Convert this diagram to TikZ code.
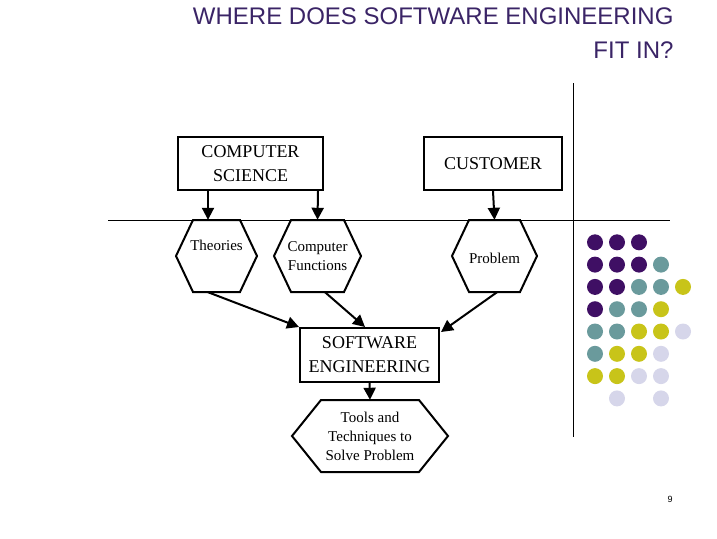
\documentclass[tikz,border=0pt]{standalone}
\usepackage{fontspec}
\setmainfont{Liberation Serif}
\newfontfamily\titlefont{Liberation Sans}
\usetikzlibrary{arrows.meta}
\definecolor{titlecol}{HTML}{3A2466}
\definecolor{dotP}{HTML}{3F0F64}
\definecolor{dotT}{HTML}{6A9A9C}
\definecolor{dotY}{HTML}{C8C419}
\definecolor{dotL}{HTML}{D6D6EA}
\tikzset{
  box/.style={draw,line width=2pt,align=center,font=\fontsize{18}{24}\selectfont,inner sep=0pt},
  hexlabel/.style={align=center,font=\fontsize{15}{19}\selectfont,inner sep=0pt},
  flow/.style={line width=2pt,-{Triangle[length=12pt,width=12pt]}}
}
% hexagon: name, cx, cy, half width, half height, inset, text
\newcommand\hexnode[7]{%
  \draw[line width=2pt] (#2-#4,#3) -- (#2-#4+#6,#3-#5) -- (#2+#4-#6,#3-#5)
    -- (#2+#4,#3) -- (#2+#4-#6,#3+#5) -- (#2-#4+#6,#3+#5) -- cycle;
  \node[hexlabel,minimum width=2*#4,minimum height=2*#5] (#1) at (#2,#3) {#7};}
\begin{document}
\begin{tikzpicture}[x=1pt,y=-1pt]
  \useasboundingbox (0,0) rectangle (717,538);

  \node[anchor=north east,align=right,text=titlecol,font=\titlefont\fontsize{24}{34}\selectfont]
    (title) at (677,4) {WHERE DOES SOFTWARE ENGINEERING\\FIT IN?};

  \draw[line width=1pt] (108,220) -- (670,220);
  \draw[line width=1pt] (573,83) -- (573,437);

  \node[box,minimum width=145,minimum height=53] (cs) at (250.5,163.5) {COMPUTER\\SCIENCE};
  \node[box,minimum width=138,minimum height=53] (cust) at (493,163.5) {CUSTOMER};
  \node[box,minimum width=139,minimum height=54] (se) at (369.5,355) {SOFTWARE\\ENGINEERING};

  \hexnode{theo}{216.5}{256}{40.5}{36}{17}{Theories\\[2pt]}
  \hexnode{func}{317.5}{256}{43.5}{36}{17}{Computer\\Functions}
  \hexnode{prob}{494.5}{256}{42.5}{36}{17}{\\[-3pt]Problem}
  \hexnode{tools}{370}{436}{78}{36}{29}{Tools and\\Techniques to\\Solve Problem}

  \draw[flow] (cs.south -| 208,0) -- (theo.north -| 208,0);
  \draw[flow] (cs.south -| 318,0) -- (func.north);
  \draw[flow] (cust.south) -- (prob.north);
  \draw[flow] (theo.south -| 208,0) -- (se.north west);
  \draw[flow] (func.south -| 325,0) -- (se.north -| 365,0);
  \draw[flow] (prob.south -| 497,0) -- (441,332);
  \draw[flow] (se.south) -- (tools.north);

  % dots: row/column/colour
  \foreach \r/\c/\k in {1/1/P,1/2/P,1/3/P,
      2/1/P,2/2/P,2/3/P,2/4/T,
      3/1/P,3/2/P,3/3/T,3/4/T,3/5/Y,
      4/1/P,4/2/T,4/3/T,4/4/Y,
      5/1/T,5/2/T,5/3/Y,5/4/Y,5/5/L,
      6/1/T,6/2/Y,6/3/Y,6/4/L,
      7/1/Y,7/2/Y,7/3/L,7/4/L,
      8/2/L,8/4/L}
    \fill[dot\k] (573+22*\c,220+22.3*\r) circle (8);

  \node[font=\titlefont\fontsize{9}{11}\selectfont] (pg) at (670,499) {9};
\end{tikzpicture}
\end{document}
